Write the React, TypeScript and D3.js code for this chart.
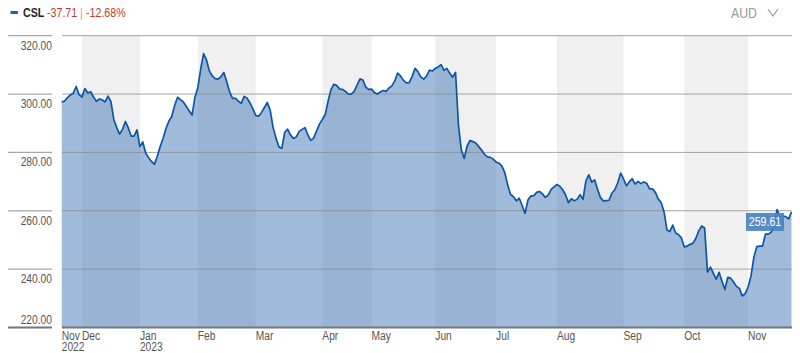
import React from "react";
import * as d3 from "d3";

const ticker = "CSL";
const change = "-37.71";
const changePct = "-12.68%";
const currency = "AUD";

// daily closes, one per trading day, 22 Nov 2022 .. 21 Nov 2023
const closes = [
  297.32, 297.6, 298.8, 299.7, 300.3, 302.6, 299.8, 299.0, 301.9, 300.4,
  300.8, 299.0, 297.5, 298.3, 298.0, 297.3, 299.3, 297.4, 291.3, 288.5,
  286.3, 287.9, 290.6, 288.4, 285.6, 285.6, 287.7, 282.0, 283.6, 279.8,
  278.2, 276.9, 275.9, 278.6, 282.0, 284.8, 288.2, 290.7, 292.3, 296.1,
  298.9, 298.1, 297.3, 295.8, 294.3, 292.8, 298.8, 302.2, 308.6, 313.9,
  311.7, 307.9, 306.2, 305.3, 305.1, 306.0, 307.4, 304.1, 300.7, 298.5,
  298.5, 297.6, 296.8, 299.2, 298.6, 297.0, 294.9, 292.7, 292.4, 293.7,
  295.4, 297.1, 294.4, 288.5, 284.9, 281.9, 281.4, 286.8, 288.0, 286.0,
  284.8, 285.3, 287.2, 287.9, 288.5, 286.0, 284.1, 284.9, 287.3, 289.7,
  291.3, 293.0, 297.6, 301.6, 303.4, 302.9, 301.7, 301.6, 300.9, 300.0,
  300.0, 300.9, 303.1, 305.2, 304.8, 302.4, 301.6, 301.7, 300.5, 300.0,
  300.7, 301.2, 300.9, 302.1, 302.8, 304.5, 307.2, 306.2, 304.7, 303.8,
  303.9, 306.0, 308.8, 307.7, 305.9, 305.1, 306.2, 308.2, 307.9, 308.8,
  309.3, 310.1, 308.1, 308.8, 307.1, 305.8, 307.4, 289.4, 280.8, 277.9,
  282.2, 284.1, 283.7, 283.2, 282.0, 280.8, 279.3, 278.5, 278.3, 277.7,
  276.7, 276.3, 275.3, 273.1, 268.8, 265.6, 264.8, 263.4, 264.3, 261.8,
  259.1, 263.7, 265.1, 265.2, 266.3, 266.6, 265.8, 264.6, 265.4, 267.3,
  268.2, 269.0, 268.4, 267.2, 265.4, 262.8, 264.1, 263.4, 264.0, 265.5,
  263.9, 270.2, 272.3, 269.8, 270.6, 267.5, 264.6, 263.4, 263.5, 263.6,
  266.1, 267.2, 269.6, 272.9, 270.9, 268.6, 269.9, 271.0, 269.1, 270.1,
  269.3, 269.9, 269.4, 267.5, 267.5, 266.3, 264.0, 262.8, 259.6, 253.4,
  252.9, 255.1, 252.4, 251.8, 250.7, 247.6, 247.9, 248.5, 248.9, 250.6,
  253.2, 254.8, 254.1, 239.0, 240.7, 238.6, 236.6, 238.9, 235.8, 233.0,
  237.2, 236.9, 235.6, 234.1, 233.4, 230.8, 231.6, 233.8, 237.6, 244.0,
  247.7, 247.9, 247.9, 252.0, 252.0, 252.7, 255.0, 260.4, 258.2, 258.2,
  258.0, 257.2, 259.61,
];

const monthLabels = ["Nov", "Dec", "Jan", "Feb", "Mar", "Apr", "May", "Jun", "Jul", "Aug", "Sep", "Oct", "Nov"];
const monthStartIdx = [0, 7, 27, 47, 67, 90, 107, 129, 150, 171, 194, 215, 237];
const yearLabels = ["2022", "", "2023", "", "", "", "", "", "", "", "", "", ""];
const yTicks = [220, 240, 260, 280, 300, 320];

const FONT = "'Liberation Sans', Arial, sans-serif";
const SQ = 0.82;

function NText(props: {
  x: number; y: number; size: number; fill: string; anchor?: string; weight?: string; children: React.ReactNode;
}) {
  const { x, y, size, fill, anchor = "start", weight = "normal", children } = props;
  return (
    <text
      transform={`translate(${x},${y}) scale(${SQ},1)`}
      fontFamily={FONT}
      fontSize={size}
      fill={fill}
      textAnchor={anchor}
      fontWeight={weight}
    >
      {children}
    </text>
  );
}

export default function App() {
  const W = 800, H = 353;
  const N = closes.length;
  const x = d3.scaleLinear().domain([0, N - 1]).range([61.7, 791.5]);
  const y = d3.scaleLinear().domain([220, 320]).range([327.5, 35.7]);
  const plotL = 62, plotR = 792;
  const bottom = y(220);

  const area = d3.area<number>().x((_, i) => x(i)).y0(bottom).y1((d) => y(d));
  const line = d3.line<number>().x((_, i) => x(i)).y((d) => y(d));

  const bands = monthStartIdx.map((s, k) => {
    const e = k + 1 < monthStartIdx.length ? x(monthStartIdx[k + 1]) : plotR;
    return { x0: x(s), x1: e, grey: k % 2 === 1 };
  });

  const last = closes[N - 1];
  const lastY = y(last);

  return (
    <svg width={W} height={H} style={{ position: "absolute", left: 0, top: 0, background: "#fff" }}>
      {/* header */}
      <line x1={10.5} x2={18} y1={12.5} y2={12.5} stroke="#1f5fa8" strokeWidth={3} />
      <NText x={23} y={17} size={13} fill="#222" weight="bold">{ticker}</NText>
      <NText x={47} y={17} size={13} fill="#c0392b">{change}</NText>
      <NText x={80} y={17} size={13} fill="#aaa">|</NText>
      <NText x={86} y={17} size={13} fill="#c0392b">{changePct}</NText>
      <NText x={757} y={18} size={15} fill="#999" anchor="end">{currency}</NText>
      <path d="M768,9 L773,16 L778,9" fill="none" stroke="#999" strokeWidth={1.1} />

      {/* month bands */}
      {bands.filter((b) => b.grey).map((b, i) => (
        <rect key={i} x={b.x0} y={y(320)} width={b.x1 - b.x0} height={bottom - y(320)} fill="#f0f0f0" />
      ))}

      {/* area */}
      <path d={area(closes) || ""} fill="#3570b0" fillOpacity={0.47} />

      {/* gridlines */}
      {yTicks.map((t) => (
        <g key={t}>
          <line x1={8} x2={52} y1={y(t)} y2={y(t)} stroke={t === 220 ? "#777" : "#a8a8a8"} strokeWidth={t === 220 ? 2 : 1.2} />
          <line x1={plotL} x2={plotR} y1={y(t)} y2={y(t)} stroke={t === 220 ? "#777" : "#8a8a8a"} strokeWidth={t === 220 ? 2 : 1} strokeOpacity={t === 220 ? 1 : 0.75} />
          <NText x={52} y={Math.min(y(t) + 14, 324)} anchor="end" size={12.5} fill="#555">{t.toFixed(2)}</NText>
        </g>
      ))}

      {/* line */}
      <path d={line(closes) || ""} fill="none" stroke="#0d56a6" strokeWidth={1.7} strokeLinejoin="round" />

      {/* last value label */}
      <rect x={746} y={lastY + 1} width={38} height={18} fill="#4a82c0" fillOpacity={0.92} />
      <NText x={765} y={lastY + 14.5} anchor="middle" size={13} fill="#fff">{last.toFixed(2)}</NText>

      {/* x labels */}
      {monthStartIdx.map((s, k) => (
        <g key={k}>
          <NText x={x(s)} y={340} size={12.5} fill="#555">{monthLabels[k]}</NText>
          {yearLabels[k] && (
            <NText x={x(s)} y={351} size={12.5} fill="#555">{yearLabels[k]}</NText>
          )}
        </g>
      ))}
    </svg>
  );
}
